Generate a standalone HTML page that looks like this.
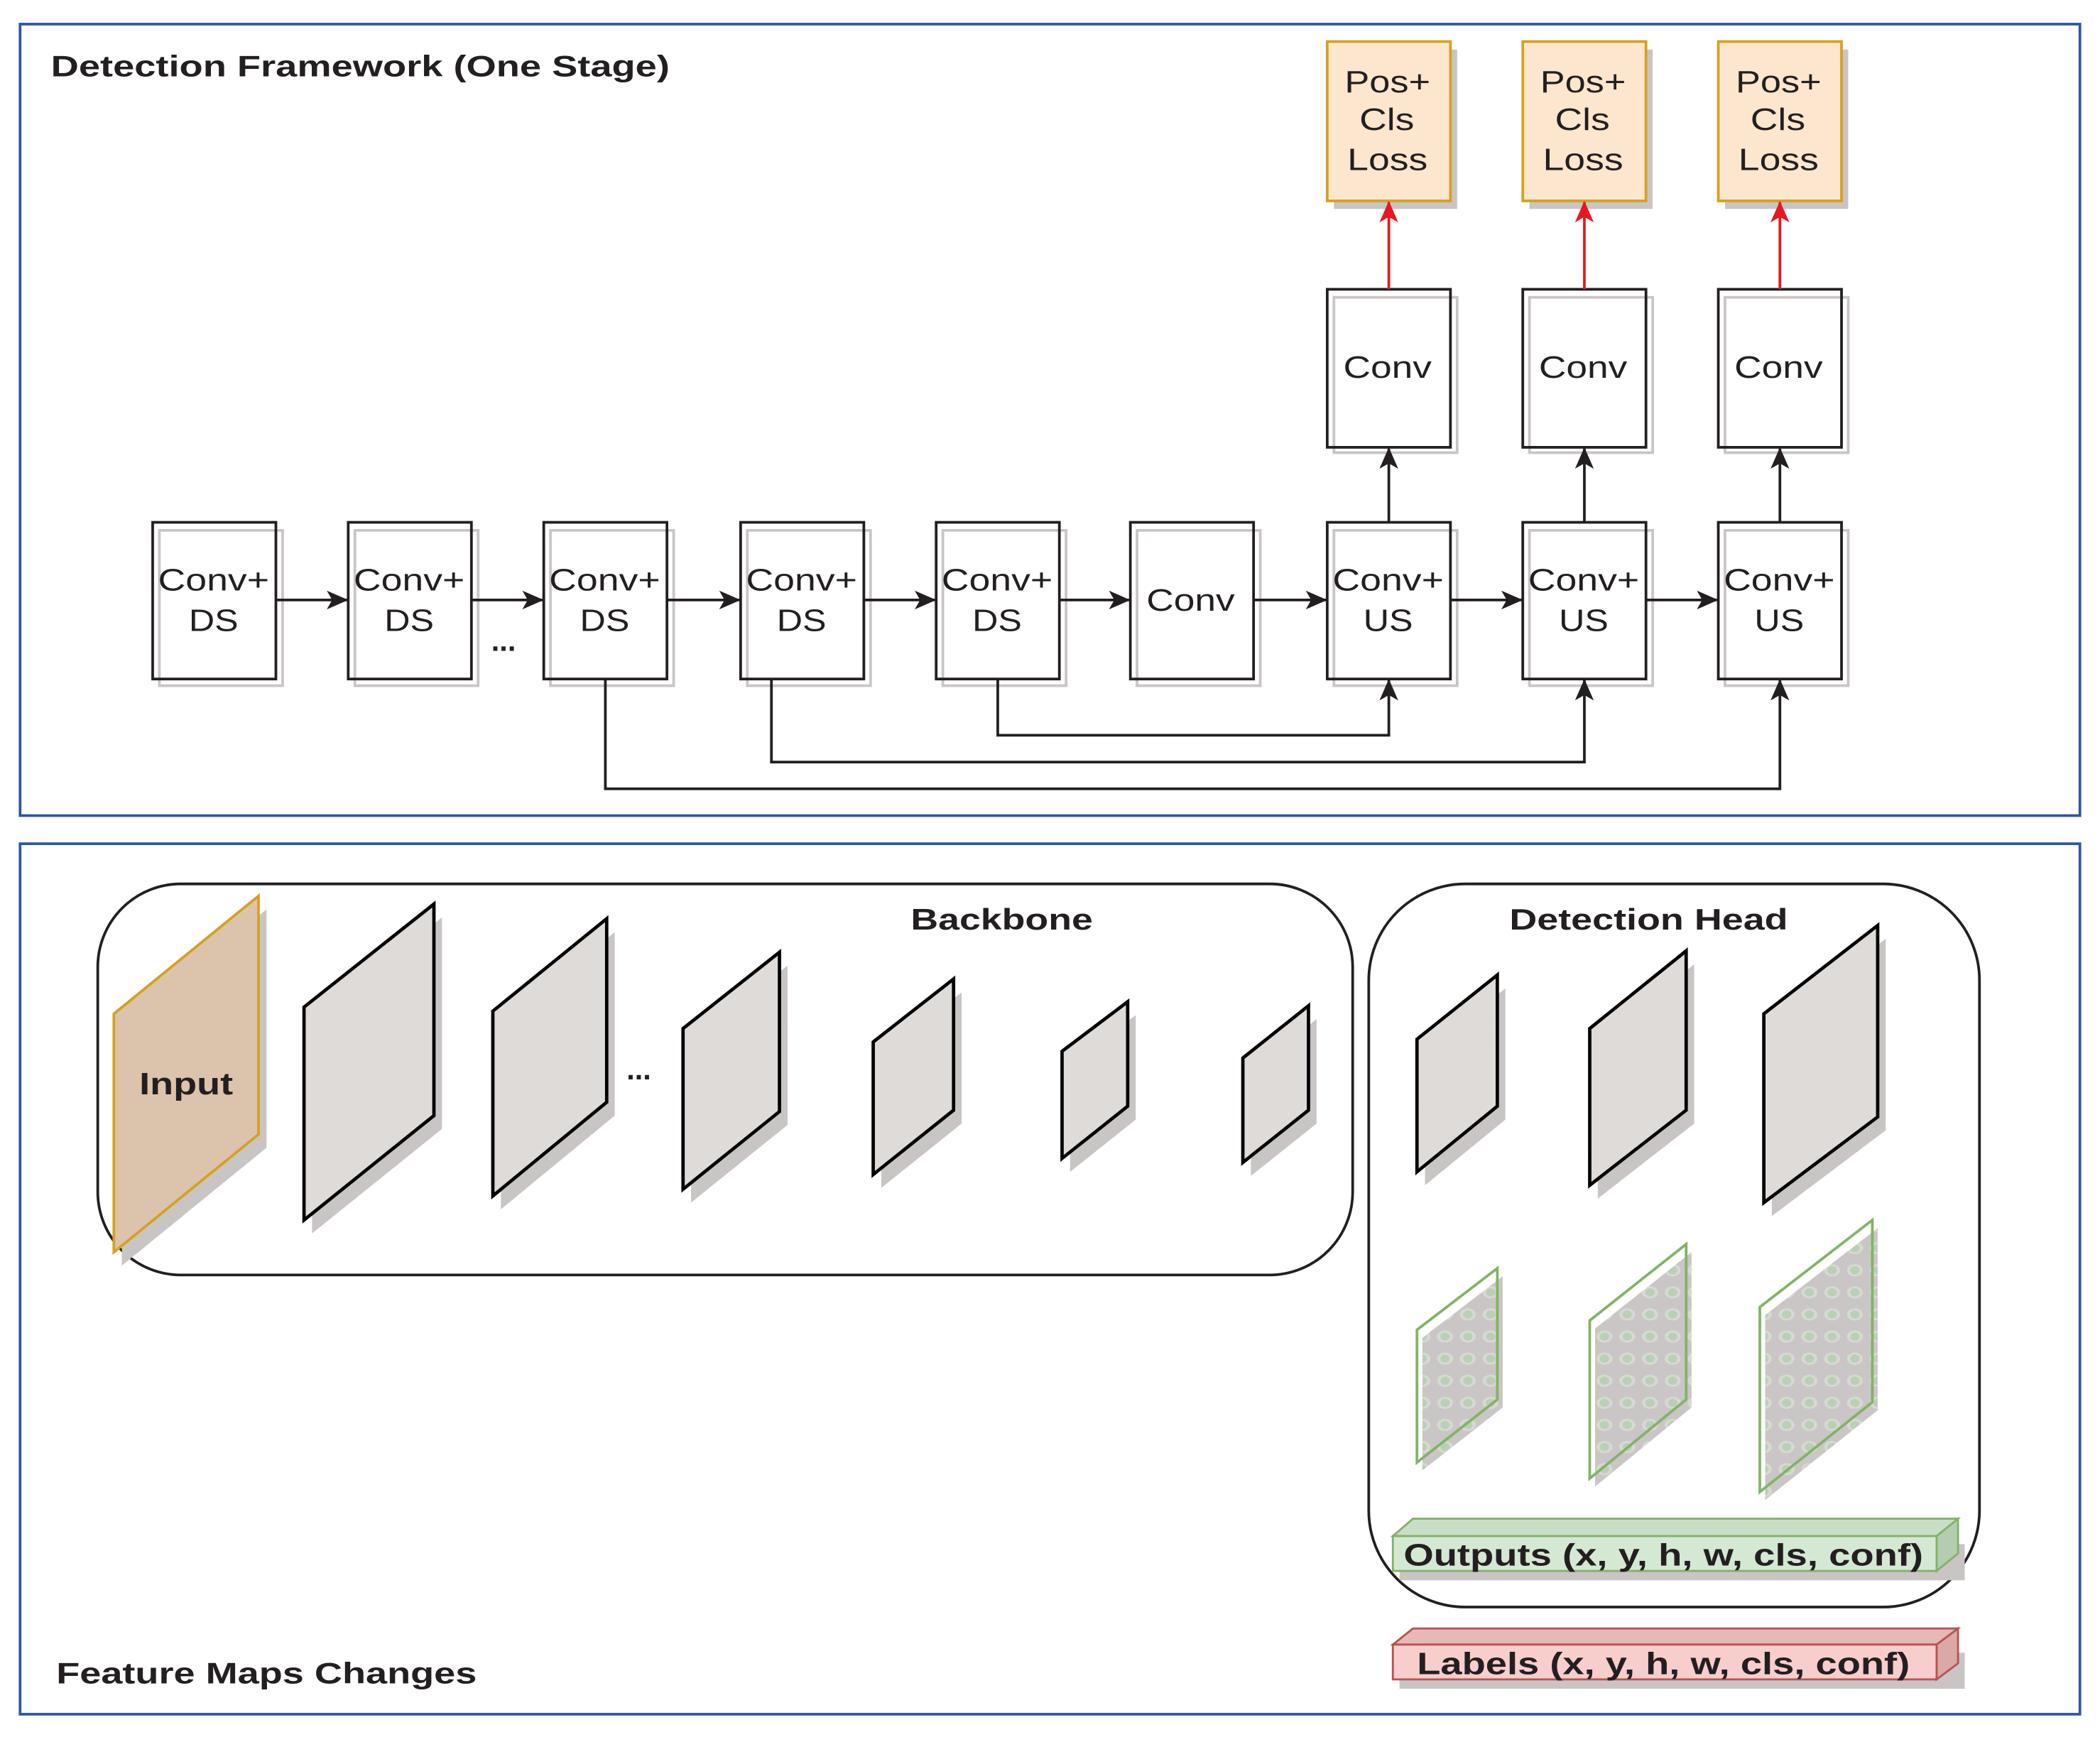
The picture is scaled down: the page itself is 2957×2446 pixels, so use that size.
<!DOCTYPE html>
<html><head><meta charset="utf-8"><style>
html,body{margin:0;padding:0;background:#fff;}
svg{display:block;}
text{font-family:"Liberation Sans",sans-serif;fill:#231f20;}
.b{font-weight:bold;}
</style></head><body>
<svg width="2957" height="2446" viewBox="0 0 1568 1297" xmlns="http://www.w3.org/2000/svg">
<defs>
<marker id="ak" markerWidth="16" markerHeight="14" refX="15" refY="7" orient="auto" markerUnits="userSpaceOnUse" viewBox="0 0 16 14"><path d="M0,0 L16,7 L0,14 L4,7z" fill="#231f20"/></marker>
<marker id="ar" markerWidth="16" markerHeight="14" refX="15" refY="7" orient="auto" markerUnits="userSpaceOnUse" viewBox="0 0 16 14"><path d="M0,0 L16,7 L0,14 L4,7z" fill="#e8171f"/></marker>
<pattern id="dots" width="17" height="16.5" patternUnits="userSpaceOnUse"><rect width="17" height="16.5" fill="#cac6c5"/><ellipse cx="8" cy="8" rx="6" ry="4.5" fill="#d8d8d4"/><ellipse cx="8" cy="8" rx="3.5" ry="3" fill="#b9d0b5"/></pattern>
</defs>
<rect width="1568" height="1297" fill="#fff"/>
<rect x="15" y="18" width="1538" height="591" fill="none" stroke="#2f56a6" stroke-width="2"/>
<rect x="15" y="630" width="1538" height="650" fill="none" stroke="#2f56a6" stroke-width="2"/>
<text x="38" y="57" font-size="22" class="b" textLength="462" lengthAdjust="spacingAndGlyphs">Detection Framework (One Stage)</text>
<text x="42" y="1257" font-size="22" class="b" textLength="314" lengthAdjust="spacingAndGlyphs">Feature Maps Changes</text>

<g stroke-width="2">
<g fill="none" stroke="#c9c5c4">
<rect x="119" y="396" width="92" height="116"/><rect x="265" y="396" width="92" height="116"/><rect x="411" y="396" width="92" height="116"/><rect x="558" y="396" width="92" height="116"/><rect x="704" y="396" width="92" height="116"/><rect x="849" y="396" width="92" height="116"/><rect x="996" y="396" width="92" height="116"/><rect x="1142" y="396" width="92" height="116"/><rect x="1288" y="396" width="92" height="116"/>
<rect x="996" y="222" width="92" height="116"/><rect x="1142" y="222" width="92" height="116"/><rect x="1288" y="222" width="92" height="116"/>
</g>
<g fill="none" stroke="#231f20">
<rect x="114" y="390" width="92" height="117"/><rect x="260" y="390" width="92" height="117"/><rect x="406" y="390" width="92" height="117"/><rect x="553" y="390" width="92" height="117"/><rect x="699" y="390" width="92" height="117"/><rect x="844" y="390" width="92" height="117"/><rect x="991" y="390" width="92" height="117"/><rect x="1137" y="390" width="92" height="117"/><rect x="1283" y="390" width="92" height="117"/>
<rect x="991" y="216" width="92" height="118"/><rect x="1137" y="216" width="92" height="118"/><rect x="1283" y="216" width="92" height="118"/>
</g>
<g fill="#c9c5c4"><rect x="996" y="37" width="92" height="119"/><rect x="1142" y="37" width="92" height="119"/><rect x="1288" y="37" width="92" height="119"/></g>
<g fill="#fde6ce" stroke="#d8a020"><rect x="991" y="31" width="92" height="119"/><rect x="1137" y="31" width="92" height="119"/><rect x="1283" y="31" width="92" height="119"/></g>
</g>
<g font-size="23">
<text x="118" y="441" textLength="83" lengthAdjust="spacingAndGlyphs">Conv+</text><text x="141" y="471" textLength="37" lengthAdjust="spacingAndGlyphs">DS</text>
<text x="264" y="441" textLength="83" lengthAdjust="spacingAndGlyphs">Conv+</text><text x="287" y="471" textLength="37" lengthAdjust="spacingAndGlyphs">DS</text>
<text x="410" y="441" textLength="83" lengthAdjust="spacingAndGlyphs">Conv+</text><text x="433" y="471" textLength="37" lengthAdjust="spacingAndGlyphs">DS</text>
<text x="557" y="441" textLength="83" lengthAdjust="spacingAndGlyphs">Conv+</text><text x="580" y="471" textLength="37" lengthAdjust="spacingAndGlyphs">DS</text>
<text x="703" y="441" textLength="83" lengthAdjust="spacingAndGlyphs">Conv+</text><text x="726" y="471" textLength="37" lengthAdjust="spacingAndGlyphs">DS</text>
<text x="856" y="456" textLength="66" lengthAdjust="spacingAndGlyphs">Conv</text>
<text x="995" y="441" textLength="83" lengthAdjust="spacingAndGlyphs">Conv+</text><text x="1018" y="471" textLength="37" lengthAdjust="spacingAndGlyphs">US</text>
<text x="1141" y="441" textLength="83" lengthAdjust="spacingAndGlyphs">Conv+</text><text x="1164" y="471" textLength="37" lengthAdjust="spacingAndGlyphs">US</text>
<text x="1287" y="441" textLength="83" lengthAdjust="spacingAndGlyphs">Conv+</text><text x="1310" y="471" textLength="37" lengthAdjust="spacingAndGlyphs">US</text>
<text x="1003" y="282" textLength="66" lengthAdjust="spacingAndGlyphs">Conv</text><text x="1149" y="282" textLength="66" lengthAdjust="spacingAndGlyphs">Conv</text><text x="1295" y="282" textLength="66" lengthAdjust="spacingAndGlyphs">Conv</text>
<text x="1004" y="69" textLength="64" lengthAdjust="spacingAndGlyphs">Pos+</text><text x="1015" y="97" textLength="41" lengthAdjust="spacingAndGlyphs">Cls</text><text x="1006" y="127" textLength="60" lengthAdjust="spacingAndGlyphs">Loss</text>
<text x="1150" y="69" textLength="64" lengthAdjust="spacingAndGlyphs">Pos+</text><text x="1161" y="97" textLength="41" lengthAdjust="spacingAndGlyphs">Cls</text><text x="1152" y="127" textLength="60" lengthAdjust="spacingAndGlyphs">Loss</text>
<text x="1296" y="69" textLength="64" lengthAdjust="spacingAndGlyphs">Pos+</text><text x="1307" y="97" textLength="41" lengthAdjust="spacingAndGlyphs">Cls</text><text x="1298" y="127" textLength="60" lengthAdjust="spacingAndGlyphs">Loss</text>
</g>
<text x="376" y="486" font-size="22" text-anchor="middle" class="b">...</text>

<g stroke="#231f20" stroke-width="2" fill="none" marker-end="url(#ak)">
<line x1="206" y1="448" x2="259" y2="448"/>
<line x1="352" y1="448" x2="405" y2="448"/>
<line x1="498" y1="448" x2="552" y2="448"/>
<line x1="645" y1="448" x2="698" y2="448"/>
<line x1="791" y1="448" x2="843" y2="448"/>
<line x1="936" y1="448" x2="990" y2="448"/>
<line x1="1083" y1="448" x2="1136" y2="448"/>
<line x1="1229" y1="448" x2="1282" y2="448"/>
<line x1="1037" y1="390" x2="1037" y2="335"/>
<line x1="1183" y1="390" x2="1183" y2="335"/>
<line x1="1329" y1="390" x2="1329" y2="335"/>
<polyline points="745,507 745,549 1037,549 1037,508"/>
<polyline points="576,507 576,569 1183,569 1183,508"/>
<polyline points="452,507 452,589 1329,589 1329,508"/>
</g>
<g stroke="#e8171f" stroke-width="2" marker-end="url(#ar)">
<line x1="1037" y1="216" x2="1037" y2="151"/>
<line x1="1183" y1="216" x2="1183" y2="151"/>
<line x1="1329" y1="216" x2="1329" y2="151"/>
</g>

<rect x="73" y="660" width="937" height="292" rx="62" ry="62" fill="none" stroke="#231f20" stroke-width="2"/>
<rect x="1022" y="660" width="456" height="540" rx="72" ry="72" fill="none" stroke="#231f20" stroke-width="2"/>
<text x="680" y="694" font-size="22" class="b" textLength="136" lengthAdjust="spacingAndGlyphs">Backbone</text>
<text x="1127" y="694" font-size="22" class="b" textLength="208" lengthAdjust="spacingAndGlyphs">Detection Head</text>

<g fill="#c9c5c4">
<polygon points="91,767 199,679 199,857 91,945"/>
<polygon points="233,762 330,685 330,843 233,921"/>
<polygon points="374,765 459,696 459,833 374,903"/>
<polygon points="516,778 588,721 588,840 516,898"/>
<polygon points="658,788 718,741 718,839 658,887"/>
<polygon points="799,795 848,758 848,836 799,875"/>
<polygon points="934,800 983,761 983,839 934,878"/>
<polygon points="1064,786 1124,738 1124,836 1064,885"/>
<polygon points="1193,778 1265,720 1265,839 1193,895"/>
<polygon points="1323,767 1408,701 1408,844 1323,908"/>
</g>
<polygon points="85,757 193,669 193,847 85,935" fill="#dcc3ab" stroke="#d8a020" stroke-width="2"/>
<text x="104" y="817" font-size="23" class="b" textLength="70" lengthAdjust="spacingAndGlyphs">Input</text>
<g fill="#dedbd8" stroke="#000" stroke-width="2.5">
<polygon points="227,752 324,675 324,833 227,911"/>
<polygon points="368,755 453,686 453,823 368,893"/>
<polygon points="510,768 582,711 582,830 510,888"/>
<polygon points="652,778 712,731 712,829 652,877"/>
<polygon points="793,785 842,748 842,826 793,865"/>
<polygon points="928,790 977,751 977,829 928,868"/>
<polygon points="1058,776 1118,728 1118,826 1058,875"/>
<polygon points="1187,768 1259,710 1259,829 1187,885"/>
<polygon points="1317,757 1402,691 1402,834 1317,898"/>
</g>
<text x="477" y="806" font-size="22" class="b" text-anchor="middle">...</text>

<g fill="url(#dots)">
<polygon points="1062,999 1122,953 1122,1051 1062,1098"/>
<polygon points="1191,992 1263,935 1263,1051 1191,1110"/>
<polygon points="1318,982 1402,917 1402,1053 1318,1120"/>
</g>
<g fill="none" stroke="#82b366" stroke-width="2">
<polygon points="1058,993 1118,947 1118,1045 1058,1092"/>
<polygon points="1187,986 1259,929 1259,1045 1187,1104"/>
<polygon points="1314,976 1398,911 1398,1047 1314,1114"/>
</g>

<rect x="1045" y="1153" width="422" height="27" fill="#c9c5c4"/>
<polygon points="1040,1147 1055,1134 1462,1134 1446,1147" fill="#c9dec7" stroke="#82b366" stroke-width="1.5"/>
<polygon points="1446,1147 1462,1134 1462,1160 1446,1173" fill="#b4cdb1" stroke="#82b366" stroke-width="1.5"/>
<rect x="1040" y="1147" width="406" height="26" fill="#d5e8d4" stroke="#82b366" stroke-width="1.5"/>
<text x="1048" y="1169" font-size="23" class="b" textLength="388" lengthAdjust="spacingAndGlyphs">Outputs (x, y, h, w, cls, conf)</text>

<rect x="1045" y="1234" width="422" height="27" fill="#c9c5c4"/>
<polygon points="1040,1228 1055,1216 1462,1216 1446,1228" fill="#e6b9b7" stroke="#b85450" stroke-width="1.5"/>
<polygon points="1446,1228 1462,1216 1462,1242 1446,1254" fill="#daa9a7" stroke="#b85450" stroke-width="1.5"/>
<rect x="1040" y="1228" width="406" height="26" fill="#f8cecc" stroke="#b85450" stroke-width="1.5"/>
<text x="1058" y="1250" font-size="23" class="b" textLength="368" lengthAdjust="spacingAndGlyphs">Labels (x, y, h, w, cls, conf)</text>
</svg>
</body></html>
